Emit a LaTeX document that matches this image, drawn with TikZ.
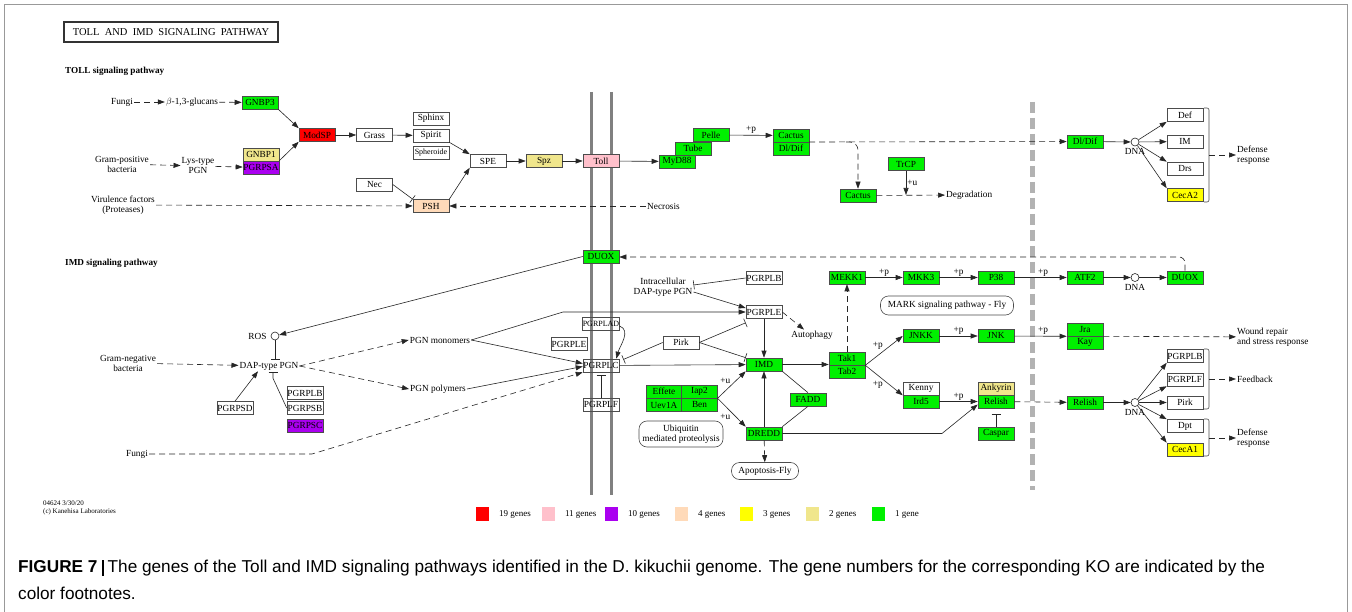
\documentclass[tikz,border=0pt]{standalone}
\usepackage{fontspec}
\setmainfont{Liberation Serif}
\newfontfamily\capfont{Liberation Sans}
\usetikzlibrary{arrows.meta,calc}
\definecolor{kgreen}{RGB}{0,240,0}
\definecolor{kred}{RGB}{255,0,0}
\definecolor{kpink}{RGB}{255,192,203}
\definecolor{kpurple}{RGB}{170,0,240}
\definecolor{kpeach}{RGB}{255,218,185}
\definecolor{kyellow}{RGB}{255,255,0}
\definecolor{kkhaki}{RGB}{240,230,140}
\newcommand{\gfont}{\fontsize{9.3}{10}\selectfont}
\tikzset{
  gene/.style={draw=black!70, line width=0.6pt, minimum width=36pt, minimum height=13pt, inner sep=0pt, font=\gfont},
  gn/.style={gene, fill=kgreen},
  lbl/.style={font=\gfont, align=center, inner sep=1pt},
  act/.style={draw=black!85, line width=0.6pt, -{Triangle[length=7pt,width=5pt]}},
  ind/.style={act, dash pattern=on 6pt off 4pt},
  inh/.style={draw=black!85, line width=0.6pt, -{Bar[width=9pt]}},
  link/.style={draw=black!85, line width=0.6pt},
  mapbox/.style={draw=black!70, line width=0.6pt, rounded corners=8pt, font=\gfont, align=center, inner sep=2pt},
  dna/.style={circle, draw=black!85, line width=0.6pt, minimum size=8pt, inner sep=0pt, fill=white},
  brace/.style={draw=black!70, line width=0.6pt, rounded corners=2pt}
}
\begin{document}
\begin{tikzpicture}[x=1pt,y=-1pt]
\useasboundingbox (0,0) rectangle (1352,612);
\fill[white] (0,0) rectangle (1352,612);
\draw[gray!80, line width=0.8pt] (4,612) -- (4,4) -- (1347.5,4) -- (1347.5,612);
\node[draw=black!80, line width=1.3pt, minimum width=214pt, minimum height=20pt, font=\fontsize{10.5}{11}\selectfont] (title) at (171,32) {TOLL~ AND~ IMD~ SIGNALING~ PATHWAY};
\node[anchor=west, font=\fontsize{9.2}{10}\selectfont\bfseries, inner sep=0pt] (tollhead) at (65,71) {TOLL signaling pathway};
\node[anchor=west, font=\fontsize{9.2}{10}\selectfont\bfseries, inner sep=0pt] (imdhead) at (65,263) {IMD signaling pathway};
% membrane and nucleus border
\draw[gray, line width=3pt] (591,92) -- (591,495);
\draw[gray, line width=3pt] (611,92) -- (611,495);
\draw[gray!60, line width=5pt, dash pattern=on 11pt off 5pt] (1032,102) -- (1032,490);
% TOLL pathway
\node[lbl] (fungia) at (122,102) {Fungi};
\node[lbl] (glucan) at (192,102) {$\beta$-1,3-glucans};
\node[gn] (gnbp3) at (260,102.5) {GNBP3};
\node[lbl] (grampos) at (122,164) {Gram-positive\\bacteria};
\node[lbl] (lystype) at (198,166) {Lys-type\\PGN};
\node[gene, fill=kkhaki] (gnbp1) at (261,154.5) {GNBP1};
\node[gene, fill=kpurple] (pgrpsa) at (261,167.5) {PGRPSA};
\node[lbl] (virul) at (123,205) {Virulence factors\\(Proteases)};
\node[gene, fill=kred] (modsp) at (317,135) {ModSP};
\node[gene] (grass) at (374.5,135) {Grass};
\node[gene] (sphinx) at (431,118.5) {Sphinx};
\node[gene] (spirit) at (431,135.5) {Spirit};
\node[gene] (spheroide) at (431,152.5) {\fontsize{8}{8}\selectfont Spheroide};
\node[gene] (nec) at (374.5,184.5) {Nec};
\node[gene, fill=kpeach] (psh) at (431,206) {PSH};
\node[gene] (spe) at (488,161) {SPE};
\node[gene, fill=kkhaki] (spz) at (544,161) {Spz};
\node[gene, fill=kpink] (toll) at (601,161) {Toll};
\node[gn] (myd88) at (677,161.5) {MyD88};
\node[gn] (tube) at (693,148.5) {Tube};
\node[gn] (pelle) at (711,135) {Pelle};
\node[gn] (cactusa) at (791,135.5) {Cactus};
\node[gn] (dldifa) at (791,148.5) {Dl/Dif};
\node[lbl, anchor=west] (necrosis) at (646,206) {Necrosis};
\node[gn] (cactusb) at (858,195.5) {Cactus};
\node[gn] (trcp) at (906,164) {TrCP};
\node[lbl, anchor=west] (degrad) at (945,195) {Degradation};
\node[gn] (dldifb) at (1085,141.5) {Dl/Dif};
\node[dna] (dnaa) at (1135,142) {};
\node[lbl, below=1pt] at (dnaa.south) {DNA};
\node[gene] (def) at (1185,115) {Def};
\node[gene] (im) at (1185,141.5) {IM};
\node[gene] (drs) at (1185,168.5) {Drs};
\node[gene, fill=kyellow] (cecaa) at (1185,195) {CecA2};
\node[lbl, anchor=west, align=left] (defresa) at (1236,155) {Defense\\response};
\draw[ind] (fungia) -- (glucan);
\draw[ind] (glucan) -- (gnbp3);
\draw[ind] (grampos) -- (lystype);
\draw[ind] (lystype) -- (pgrpsa);
\draw[act] (gnbp3.south east) -- (modsp.north west);
\draw[act] (pgrpsa.north east) -- (modsp.south west);
\draw[act] (modsp) -- (grass);
\draw[act] (grass) -- (spirit);
\draw[act] (spirit.south east) -- (spe.north west);
\draw[act] (psh.north east) -- (spe.south west);
\draw[inh] (nec.east) -- (psh.north west);
\draw[ind] (virul) -- (psh);
\draw[ind] (necrosis) -- (psh);
\draw[act] (spe) -- (spz);
\draw[act] (spz) -- (toll);
\draw[act] (toll) -- (myd88);
\draw[act] (pelle) -- node[lbl, above] {+p} (cactusa);
\coordinate (cdout) at (809,142);
\coordinate (cdsplit) at (846,142);
\draw[ind] (cdout) -- (dldifb);
\draw[ind, rounded corners=8pt] (cdsplit) -| (cactusb.north);
\coordinate (degr) at (906,195);
\draw[act] (trcp) -- node[lbl, right] {+u} (degr);
\draw[ind] (cactusb) -- (degrad);
\draw[act] (dldifb) -- (dnaa);
\draw[act] (dnaa) -- (def.south west);
\draw[act] (dnaa) -- (im);
\draw[act] (dnaa) -- (drs.north west);
\draw[act] (dnaa) -- (cecaa.north west);
\draw[brace] (1204,108) -- (1209,108) -- (1209,202) -- (1204,202);
\coordinate (bra) at (1209,155);
\draw[ind] (bra) -- (defresa);
% IMD pathway
\node[gn] (duoxa) at (601,256.5) {DUOX};
\node[dna] (ros) at (275,336) {};
\node[lbl, left=3pt] at (ros.west) {ROS};
\node[lbl] (gramneg) at (128,363) {Gram-negative\\bacteria};
\node[lbl] (dap) at (269,366) {DAP-type PGN};
\node[lbl] (pgnmono) at (440,340) {PGN monomers};
\node[lbl] (pgnpoly) at (438,389) {PGN polymers};
\node[gene] (pgrpsd) at (235,408) {PGRPSD};
\node[gene] (pgrplba) at (305,393) {PGRPLB};
\node[gene] (pgrpsb) at (305,408) {PGRPSB};
\node[gene, fill=kpurple] (pgrpsc) at (305,425.5) {PGRPSC};
\node[lbl] (fungib) at (137,454) {Fungi};
\node[gene] (pgrplad) at (601,324) {\fontsize{8}{8}\selectfont PGRPLAD};
\node[gene] (pgrplea) at (569,344) {PGRPLE};
\node[gene] (pgrplc) at (601,365.5) {PGRPLC};
\node[gene] (pgrplf) at (601,404.5) {PGRPLF};
\node[lbl] (intra) at (663,287) {Intracellular\\DAP-type PGN};
\node[gene] (pgrplbb) at (764,278) {PGRPLB};
\node[gene] (pgrpleb) at (764,312) {PGRPLE};
\node[gene] (pirka) at (681,342.5) {Pirk};
\node[lbl] (autoph) at (812,335) {Autophagy};
\node[gn] (imd) at (764,364.5) {IMD};
\node[gn, minimum width=35.5pt] (effete) at (664,391.5) {Effete};
\node[gn, minimum width=35.5pt] (iap2) at (699.5,391.5) {Iap2};
\node[gn, minimum width=35.5pt] (uev1a) at (664,405) {Uev1A};
\node[gn, minimum width=35.5pt] (ben) at (699.5,405) {Ben};
\node[gn] (fadd) at (808,399.5) {FADD};
\node[gn] (dredd) at (764,433.5) {DREDD};
\node[mapbox, minimum width=84pt, minimum height=26pt] (ubiq) at (681,434) {Ubiquitin\\mediated proteolysis};
\node[mapbox, minimum width=67pt, minimum height=17pt] (apop) at (765,471) {Apoptosis-Fly};
\node[gn] (tak1) at (847,358.5) {Tak1};
\node[gn] (tab2) at (847,371.5) {Tab2};
\node[gn] (mekk1) at (847,277.5) {MEKK1};
\node[gn] (mkk3) at (921,277.5) {MKK3};
\node[gn] (p38) at (996,277.5) {P38};
\node[gn] (atf2) at (1085,277.5) {ATF2};
\node[dna] (dnab) at (1135,277.5) {};
\node[lbl, below=1pt] at (dnab.south) {DNA};
\node[gn] (duoxb) at (1185,277.5) {DUOX};
\node[mapbox, minimum width=133pt, minimum height=19pt] (mapk) at (947,305.5) {MARK signaling pathway - Fly};
\node[gn] (jnkk) at (921,336) {JNKK};
\node[gn] (jnk) at (996,336) {JNK};
\node[gn] (jra) at (1085,329.5) {Jra};
\node[gn] (kay) at (1085,342.5) {Kay};
\node[lbl, anchor=west, align=left] (wound) at (1236,337) {Wound repair\\and stress response};
\node[gene] (kenny) at (921,388.5) {Kenny};
\node[gn] (ird5) at (921,401.5) {Ird5};
\node[gene, fill=kkhaki] (ankyrin) at (996,388.5) {Ankyrin};
\node[gn] (relisha) at (996,401.5) {Relish};
\node[gn] (caspar) at (996,433.5) {Caspar};
\node[gn] (relishb) at (1085,402.5) {Relish};
\node[dna] (dnac) at (1135,402.5) {};
\node[lbl, below=1pt] at (dnac.south) {DNA};
\node[gene] (pgrplbc) at (1185,356) {PGRPLB};
\node[gene] (pgrplfc) at (1185,379.5) {PGRPLF};
\node[gene] (pirkb) at (1185,402.5) {Pirk};
\node[gene] (dpt) at (1185,426) {Dpt};
\node[gene, fill=kyellow] (cecab) at (1185,449.5) {CecA1};
\node[lbl, anchor=west] (feedb) at (1236,379) {Feedback};
\node[lbl, anchor=west, align=left] (defresb) at (1236,438) {Defense\\response};
\draw[act] (duoxa.west) -- (ros);
\draw[inh] (ros.south) -- ([yshift=1pt]ros.south |- dap.north);
\draw[ind] (gramneg) -- (dap);
\draw[ind] (dap.east) -- (pgnmono.west);
\draw[ind] (dap.east) -- (pgnpoly.west);
\draw[act] (pgrpsd.north) -- ([xshift=-11pt]dap.south);
\draw[inh] (pgrpsb.west) -- ($(dap.south)+(4,7)$) -- ([xshift=4pt,yshift=-1pt]dap.south);
\coordinate (fungibend) at (312,454);
\draw[ind] (fungib) -- (fungibend) -- (pgrplc.south west);
\coordinate (monobend) at (563,312);
\draw[act] (pgnmono.east) -- (monobend) -- (pgrpleb.west);
\draw[act] (pgnmono.east) -- ([yshift=2pt]pgrplc.west);
\draw[act] (pgnpoly.east) -- ([yshift=-1pt]pgrplc.west);
\draw[act] ([yshift=-2pt]pgrplad.east) to[out=-20, in=75] ([xshift=-3pt]pgrplc.north east);
\draw[inh] (pirka.west) -- ([xshift=4pt,yshift=6pt]pgrplc.east);
\draw[act] (pgrplc) -- (imd);
\draw[inh] (pirka.east) -- ([yshift=-4pt]pgrpleb.south west);
\draw[inh] (pirka.east) -- (imd.north west);
\draw[inh] (pgrplbb.west) -- ([yshift=2pt]intra.east);
\draw[act] ([yshift=-5pt]intra.east) -- ([yshift=4pt]pgrpleb.west);
\draw[ind] (pgrpleb.east) -- ([xshift=-8pt]autoph.north);
\draw[act] (pgrpleb) -- (imd);
\draw[inh] (pgrplf.north) -- ([yshift=-3pt]pgrplc.south);
\draw[act] (iap2.south east) -- node[lbl, above left] {+u} (imd.south west);
\draw[act] (iap2.south east) -- node[lbl, below left] {+u} (dredd.north west);
\draw[act] (dredd) -- (imd);
\draw[link] (imd.south east) -- (fadd.north);
\draw[link] (fadd.south) -- (dredd.north east);
\draw[ind] (dredd) -- (apop);
\coordinate (dreddbend) at (942,433.5);
\draw[act] (dredd.east) -- (dreddbend) -- ([yshift=-3pt]relisha.west);
\draw[act] (imd.east) -- (imd.east -| tak1.west);
\draw[ind] (tak1) -- (mekk1);
\draw[act] (mekk1) -- node[lbl, above] {+p} (mkk3);
\draw[act] (mkk3) -- node[lbl, above] {+p} (p38);
\draw[act] (p38) -- node[lbl, above, pos=0.55] {+p} (atf2);
\draw[act] (atf2) -- (dnab);
\draw[act] (dnab) -- (duoxb);
\draw[ind, rounded corners=6pt] (duoxb.north) |- ([yshift=-0.5pt]duoxa.east);
\draw[act] (tak1.south east) -- node[lbl, above left] {+p} (jnkk.west);
\draw[act] (tak1.south east) -- node[lbl, below left] {+p} (kenny.south west);
\draw[act] (jnkk) -- node[lbl, above] {+p} (jnk);
\draw[act] (jnk) -- node[lbl, above, pos=0.55] {+p} (jra.south west);
\draw[ind] (jra.south east) -- (wound);
\draw[act] (ird5) -- node[lbl, above] {+p} (relisha);
\draw[inh] (caspar) -- ([yshift=-6pt]relisha.south);
\draw[ind] (relisha) -- (relishb);
\draw[act] (relishb) -- (dnac);
\draw[act] (dnac) -- (pgrplbc.south west);
\draw[act] (dnac) -- (pgrplfc.south west);
\draw[act] (dnac) -- (pirkb);
\draw[act] (dnac) -- (dpt.north west);
\draw[act] (dnac) -- (cecab.north west);
\draw[brace] (1204,349) -- (1209,349) -- (1209,409) -- (1204,409);
\draw[brace] (1204,419) -- (1209,419) -- (1209,456) -- (1204,456);
\coordinate (brb) at (1209,379);
\coordinate (brc) at (1209,438);
\draw[ind] (brb) -- (feedb);
\draw[ind] (brc) -- (defresb);
% footer and legend
\node[anchor=west, align=left, font=\fontsize{7}{7.5}\selectfont, inner sep=0pt] (stamp) at (43,508) {04624 3/30/20\\(c) Kanehisa Laboratories};
\foreach \c/\t/\x in {kred/19 genes/476, kpink/11 genes/542, kpurple/10 genes/605, kpeach/4 genes/675, kyellow/3 genes/740, kkhaki/2 genes/806, kgreen/1 gene/872}
  \fill[\c] (\x,507) rectangle ++(13,14) node[anchor=west, text=black, font=\fontsize{9}{9}\selectfont, text height=6pt, text depth=2pt, pos=0.5, xshift=13pt] {\t};
\node[anchor=west, font=\capfont\fontsize{17.2}{19}\selectfont, inner sep=0pt] (capa) at (18,568) {\textbf{FIGURE 7}\hspace{4pt}\rule[-3pt]{2.2pt}{16pt}\hspace{4pt}The genes of the Toll and IMD signaling pathways identified in the D. kikuchii genome. The gene numbers for the corresponding KO are indicated by the};
\node[anchor=west, font=\capfont\fontsize{17.2}{19}\selectfont, inner sep=0pt] (capb) at (18,593) {color footnotes.};
\end{tikzpicture}
\end{document}
